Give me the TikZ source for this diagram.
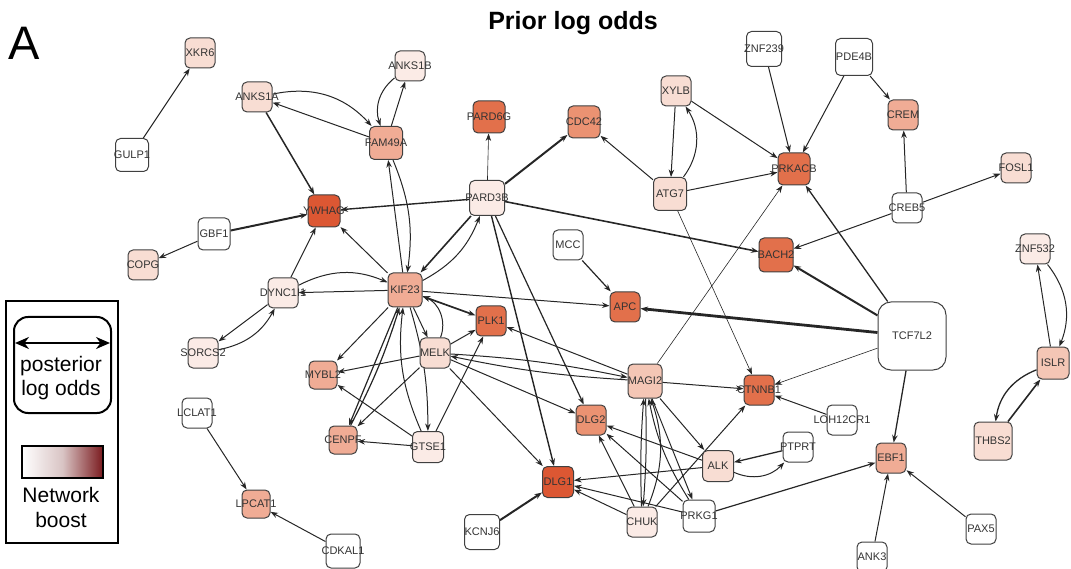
\documentclass[tikz,border=0pt]{standalone}
\usepackage{fontspec}
\setmainfont{Liberation Sans}
\usepackage{xcolor}
\usepackage{tikz}
\usetikzlibrary{arrows.meta,backgrounds}

\definecolor{b1}{HTML}{FBEBE6}
\definecolor{b2}{HTML}{F8DDD3}
\definecolor{b3}{HTML}{F4C6B5}
\definecolor{b4}{HTML}{F0AC95}
\definecolor{b5}{HTML}{EB9272}
\definecolor{b6}{HTML}{E2704B}
\definecolor{b7}{HTML}{DC5733}
\definecolor{boostmid}{HTML}{D9C4C4}
\definecolor{boostdark}{HTML}{7A1A1E}

\begin{document}
\begin{tikzpicture}[x=1pt, y=-1pt,
  gene/.style={draw=black!75, line width=1pt, rounded corners=5pt, minimum size=30pt, inner sep=0pt},
  gname/.style={font=\fontsize{11}{11}\selectfont, text=black!80, inner sep=0pt},
  link/.style={-{Stealth[length=7.5pt,width=5.5pt]}, line width=1pt, draw=black!85},
  faint/.style={link, line width=0.6pt},
  heavy/.style={link, line width=2pt},
  legendtext/.style={font=\fontsize{21}{21}\selectfont, inner sep=0pt}]
\useasboundingbox (0,0) rectangle (1071,569);

% Titles
\node[font=\fontsize{47}{47}\selectfont] (panel) at (24,43) {A};
\node[font=\fontsize{25}{25}\selectfont\bfseries] (title) at (573,23) {Prior log odds};

% Genes
\node[gene, fill=b2, label={[gname]center:XKR6}] (xkr6) at (200,53) {};
\node[gene, fill=white, minimum size=33pt, label={[gname]center:GULP1}] (gulp1) at (132,155) {};
\node[gene, fill=b2, label={[gname]center:ANKS1A}] (anks1a) at (257,97) {};
\node[gene, fill=b1, label={[gname]center:ANKS1B}] (anks1b) at (410,66) {};
\node[gene, fill=b4, minimum size=33pt, label={[gname]center:FAM49A}] (fam49a) at (386,143) {};
\node[gene, fill=b6, minimum size=32pt, label={[gname]center:PARD6G}] (pard6g) at (489,117) {};
\node[gene, fill=b5, minimum size=32pt, label={[gname]center:CDC42}] (cdc42) at (584,122) {};
\node[gene, fill=b2, label={[gname]center:XYLB}] (xylb) at (676,91) {};
\node[gene, fill=b2, minimum size=33pt, label={[gname]center:ATG7}] (atg7) at (670,194) {};
\node[gene, fill=white, minimum size=35pt, label={[gname]center:ZNF239}] (znf239) at (764,49) {};
\node[gene, fill=white, minimum size=37pt, label={[gname]center:PDE4B}] (pde4b) at (854,57) {};
\node[gene, fill=b4, label={[gname]center:CREM}] (crem) at (903,115) {};
\node[gene, fill=b6, minimum size=32pt, label={[gname]center:PRKACB}] (prkacb) at (794,169) {};
\node[gene, fill=b2, label={[gname]center:FOSL1}] (fosl1) at (1016,168) {};
\node[gene, fill=white, label={[gname]center:CREB5}] (creb5) at (907,208) {};
\node[gene, fill=b7, minimum size=32pt, label={[gname]center:YWHAG}] (ywhag) at (324,211) {};
\node[gene, fill=white, minimum size=32pt, label={[gname]center:GBF1}] (gbf1) at (214,234) {};
\node[gene, fill=b2, label={[gname]center:COPG}] (copg) at (143,265) {};
\node[gene, fill=b1, minimum size=35pt, label={[gname]center:PARD3B}] (pard3b) at (487,198) {};
\node[gene, fill=b6, minimum size=34pt, label={[gname]center:BACH2}] (bach2) at (776,255) {};
\node[gene, fill=white, label={[gname]center:MCC}] (mcc) at (568,245) {};
\node[gene, fill=b1, label={[gname]center:ZNF532}] (znf532) at (1035,249) {};
\node[gene, fill=b1, label={[gname]center:DYNC1I1}] (dync1) at (283,293) {};
\node[gene, fill=b4, minimum size=34pt, label={[gname]center:KIF23}] (kif23) at (405,290) {};
\node[gene, fill=b6, label={[gname]center:APC}] (apc) at (625,307) {};
\node[gene, fill=white, minimum size=68pt, rounded corners=13pt, label={[gname]center:TCF7L2}] (tcf7l2) at (912,336) {};
\node[gene, fill=b1, label={[gname]center:SORCS2}] (sorcs2) at (203,353) {};
\node[gene, fill=b6, label={[gname]center:PLK1}] (plk1) at (491,321) {};
\node[gene, fill=b2, label={[gname]center:MELK}] (melk) at (435,353) {};
\node[gene, fill=b3, minimum size=32pt, label={[gname]center:ISLR}] (islr) at (1053,363) {};
\node[gene, fill=b4, minimum size=28pt, label={[gname]center:MYBL2}] (mybl2) at (323,375) {};
\node[gene, fill=b3, minimum size=34pt, label={[gname]center:MAGI2}] (magi2) at (645,381) {};
\node[gene, fill=b6, label={[gname]center:CTNNB1}] (ctnnb1) at (759,390) {};
\node[gene, fill=white, label={[gname]center:LCLAT1}] (lclat1) at (197,413) {};
\node[gene, fill=b4, minimum size=28pt, label={[gname]center:CENPF}] (cenpf) at (343,440) {};
\node[gene, fill=b1, minimum size=31pt, label={[gname]center:GTSE1}] (gtse1) at (428,447) {};
\node[gene, fill=b5, label={[gname]center:DLG2}] (dlg2) at (591,420) {};
\node[gene, fill=white, label={[gname]center:LOH12CR1}] (loh12cr1) at (842,420) {};
\node[gene, fill=white, label={[gname]center:PTPRT}] (ptprt) at (798,447) {};
\node[gene, fill=b2, minimum size=31pt, label={[gname]center:ALK}] (alk) at (718,466) {};
\node[gene, fill=b2, minimum size=38pt, label={[gname]center:THBS2}] (thbs2) at (993,441) {};
\node[gene, fill=b4, label={[gname]center:EBF1}] (ebf1) at (891,458) {};
\node[gene, fill=b4, minimum size=28pt, label={[gname]center:LPCAT1}] (lpcat1) at (256,504) {};
\node[gene, fill=b7, minimum size=31pt, label={[gname]center:DLG1}] (dlg1) at (558,482) {};
\node[gene, fill=white, minimum size=35pt, label={[gname]center:KCNJ6}] (kcnj6) at (482,532) {};
\node[gene, fill=b1, label={[gname]center:CHUK}] (chuk) at (642,522) {};
\node[gene, fill=white, minimum size=32pt, label={[gname]center:PRKG1}] (prkg1) at (699,516) {};
\node[gene, fill=white, minimum size=34pt, label={[gname]center:CDKAL1}] (cdkal1) at (343,551) {};
\node[gene, fill=white, label={[gname]center:PAX5}] (pax5) at (981,529) {};
\node[gene, fill=white, label={[gname]center:ANK3}] (ank3) at (872,557) {};

% Interactions
\begin{scope}[on background layer]
\draw[link] (gulp1) -- (xkr6);
\draw[link, line width=1.5pt] (anks1a) -- (ywhag);
\draw[link] (anks1a) to[bend left=30] (fam49a);
\draw[link] (fam49a) -- (anks1a);
\draw[link] (anks1b) to[bend right=35] (fam49a);
\draw[link] (fam49a) -- (anks1b);
\draw[link] (kif23) -- (fam49a);
\draw[link] (fam49a) to[bend left=15] (kif23);
\draw[faint] (pard3b) -- (pard6g);
\draw[heavy] (pard3b) -- (cdc42);
\draw[link] (atg7) -- (cdc42);
\draw[link] (xylb) -- (atg7);
\draw[link] (atg7) to[bend right=35] (xylb);
\draw[link] (xylb) -- (prkacb);
\draw[link] (atg7) -- (prkacb);
\draw[link] (znf239) -- (prkacb);
\draw[link] (pde4b) -- (prkacb);
\draw[link] (pde4b) -- (crem);
\draw[link] (creb5) -- (crem);
\draw[link] (creb5) -- (fosl1);
\draw[link] (creb5) -- (bach2);
\draw[link, line width=1.3pt] (tcf7l2) -- (prkacb);
\draw[heavy] (tcf7l2) -- (bach2);
\draw[link, line width=2.8pt] (tcf7l2) -- (apc);
\draw[faint] (tcf7l2) -- (ctnnb1);
\draw[link, line width=1.3pt] (tcf7l2) -- (ebf1);
\draw[link, line width=1.6pt] (pard3b) -- (bach2);
\draw[link, line width=1.4pt] (pard3b) -- (ywhag);
\draw[faint] (magi2) -- (prkacb);
\draw[faint] (atg7) -- (ctnnb1);
\draw[link, line width=1.2pt] (mcc) -- (apc);
\draw[link] (kif23) -- (apc);
\draw[heavy] (gbf1) -- (ywhag);
\draw[link] (gbf1) -- (copg);
\draw[link] (dync1) -- (ywhag);
\draw[link] (kif23) -- (ywhag);
\draw[link] (kif23) -- (dync1);
\draw[link] (dync1) to[bend left=25] (kif23);
\draw[link] (dync1) -- (sorcs2);
\draw[link] (sorcs2) to[bend right=25] (dync1);
\draw[link, line width=1.6pt] (pard3b) -- (kif23);
\draw[link] (kif23) to[bend right=20] (pard3b);
\draw[link, line width=1.7pt, {Stealth[length=7.5pt,width=5.5pt]}-{Stealth[length=7.5pt,width=5.5pt]}] (kif23) -- (plk1);
\draw[link] (kif23) -- (melk);
\draw[link] (melk) to[bend right=45] (kif23);
\draw[link] (melk) -- (plk1);
\draw[link] (kif23) -- (mybl2);
\draw[link, line width=1.2pt] (kif23) -- (cenpf);
\draw[link, line width=1.2pt] (cenpf) to[bend right=5] (kif23);
\draw[link] (kif23) to[bend left=8] (gtse1);
\draw[link] (gtse1) to[bend left=15] (kif23);
\draw[link] (gtse1) -- (mybl2);
\draw[link] (gtse1) -- (cenpf);
\draw[link] (gtse1) -- (plk1);
\draw[link] (melk) -- (cenpf);
\draw[link] (melk) -- (mybl2);
\draw[link] (melk) -- (dlg2);
\draw[link] (melk) -- (dlg1);
\draw[link] (melk) to[bend left=4] (magi2);
\draw[link] (magi2) to[bend left=4] (melk);
\draw[link] (magi2) -- (plk1);
\draw[link, line width=1.4pt] (pard3b) -- (dlg1);
\draw[link, line width=1.2pt] (pard3b) -- (dlg2);
\draw[link] (magi2) -- (ctnnb1);
\draw[link] (loh12cr1) -- (ctnnb1);
\draw[link] (chuk) -- (ctnnb1);
\draw[link] (magi2) -- (alk);
\draw[link] (magi2) -- (prkg1);
\draw[link] (chuk) to[bend left=3] (magi2);
\draw[link] (magi2) to[bend left=3] (chuk);
\draw[link] (chuk) to[bend right=20] (magi2);
\draw[link] (prkg1) to[bend left=10] (magi2);
\draw[link] (alk) -- (dlg2);
\draw[link] (alk) -- (dlg1);
\draw[link] (prkg1) -- (dlg2);
\draw[link] (prkg1) -- (dlg1);
\draw[link] (chuk) -- (dlg2);
\draw[link] (chuk) -- (dlg1);
\draw[link, line width=1.2pt] (prkg1) -- (ebf1);
\draw[link, line width=1.3pt] (ptprt) -- (alk);
\draw[link] (alk) to[bend right=35] (ptprt);
\draw[link] (ank3) -- (ebf1);
\draw[link] (pax5) -- (ebf1);
\draw[link] (islr) -- (znf532);
\draw[link] (znf532) to[bend left=30] (islr);
\draw[link, line width=1.3pt] (islr) to[bend right=30] (thbs2);
\draw[link, line width=1.6pt] (thbs2) -- (islr);
\draw[link] (lclat1) -- (lpcat1);
\draw[link] (cdkal1) -- (lpcat1);
\draw[heavy] (kcnj6) -- (dlg1);
\end{scope}

% Legend
\draw[line width=2.4pt] (6,301) rectangle (118,543);
\draw[line width=2pt, rounded corners=14pt] (14,317) rectangle (111,413);
\coordinate (arrowL) at (15,343);
\coordinate (arrowR) at (110,343);
\draw[line width=2pt, {Stealth[length=14pt,width=12pt]}-{Stealth[length=14pt,width=12pt]}] (arrowL) -- (arrowR);
\node[legendtext] (post) at (61,366) {posterior};
\node[legendtext] (logodds) at (61,390) {log odds};
\shade[left color=white, right color=boostdark, middle color=boostmid] (22,446) rectangle (103,478);
\draw[line width=2pt] (22,446) rectangle (103,478);
\node[legendtext] (network) at (61,495) {Network};
\node[legendtext] (boost) at (61,520) {boost};
\end{tikzpicture}
\end{document}
